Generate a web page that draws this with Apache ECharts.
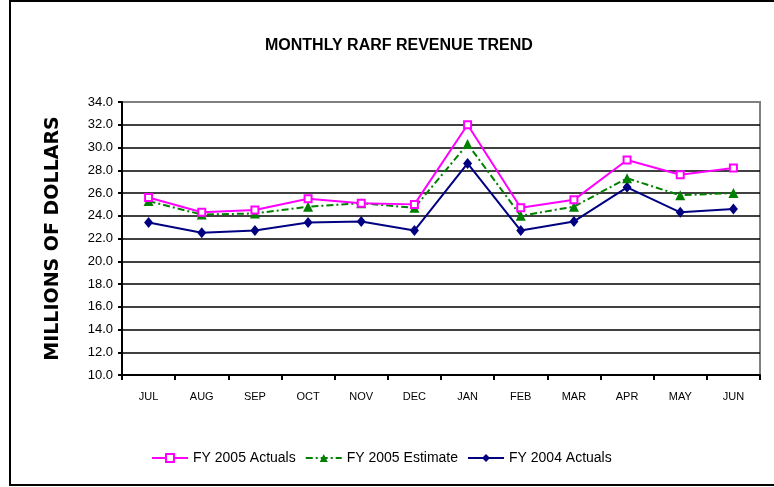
<!DOCTYPE html>
<html>
<head>
<meta charset="utf-8">
<script src="https://cdn.jsdelivr.net/npm/echarts@6/dist/echarts.min.js"></script>
<style>
html, body {margin:0; padding:0; background:#fff;}
#chart {width:774px; height:487px;}
</style>
</head>
<body>
<div id="chart"></div>
<script>
var months = ['JUL','AUG','SEP','OCT','NOV','DEC','JAN','FEB','MAR','APR','MAY','JUN']
var fy2005Actuals = [25.6, 24.3, 24.5, 25.5, 25.1, 25.0, 32.0, 24.7, 25.4, 28.9, 27.6, 28.2]
var fy2005Estimate = [25.3, 24.1, 24.2, 24.8, 25.1, 24.7, 30.3, 24.0, 24.8, 27.3, 25.8, 26.0]
var fy2004Actuals = [23.4, 22.5, 22.7, 23.4, 23.5, 22.7, 28.6, 22.7, 23.5, 26.5, 24.3, 24.6]

var sans = '"Liberation Sans", Arial, sans-serif'

// 13 grid lines 10..34, the top one is the grey plot border
var gridColors = []
for (var i = 0; i < 12; i++) gridColors.push('#000')
gridColors.push('#808080')

var chart = echarts.init(document.getElementById('chart'));
var option = {
    animation: false,
    backgroundColor: '#fff',
    title: {
        text: 'MONTHLY RARF REVENUE TREND',
        left: 260,
        top: 33,
        textStyle: {
            fontFamily: sans,
            fontWeight: 'bold',
            fontSize: 16,
            color: '#000'
        }
    },
    grid: {
        left: 122,
        right: 14,
        top: 102,
        bottom: 112,
        show: true,
        borderColor: '#808080',
        borderWidth: 2
    },
    legend: {
        left: 146,
        top: 446,
        itemWidth: 36,
        itemHeight: 10,
        itemGap: 9,
        textStyle: {
            fontFamily: sans,
            fontSize: 14,
            color: '#000'
        },
        data: ['FY 2005 Actuals', 'FY 2005 Estimate', 'FY 2004 Actuals']
    },
    xAxis: {
        type: 'category',
        data: months,
        boundaryGap: true,
        axisLine: {lineStyle: {color: '#000', width: 2}},
        axisTick: {show: true, length: 5, lineStyle: {color: '#000', width: 2}},
        axisLabel: {
            margin: 16,
            fontFamily: sans,
            fontSize: 11,
            color: '#000'
        },
        splitLine: {show: false}
    },
    yAxis: {
        type: 'value',
        min: 10,
        max: 34,
        interval: 2,
        name: 'MILLIONS OF DOLLARS',
        nameLocation: 'middle',
        nameGap: 59,
        nameTextStyle: {
            fontFamily: '"DejaVu Sans", sans-serif',
            fontWeight: 'bold',
            fontSize: 19,
            color: '#000'
        },
        axisLine: {show: true, lineStyle: {color: '#000', width: 2}},
        axisTick: {show: true, length: 4, lineStyle: {color: '#000', width: 2}},
        axisLabel: {
            margin: 9,
            fontFamily: sans,
            fontSize: 13,
            color: '#000',
            formatter: function (v) { return v.toFixed(1); }
        },
        splitLine: {show: true, lineStyle: {color: gridColors, width: 1.5}}
    },
    series: [{
        name: 'FY 2005 Actuals',
        type: 'line',
        data: fy2005Actuals,
        symbol: 'rect',
        symbolSize: 7,
        lineStyle: {color: '#ff00ff', width: 2},
        itemStyle: {color: '#fff', borderColor: '#ff00ff', borderWidth: 2},
        z: 4
    }, {
        name: 'FY 2005 Estimate',
        type: 'line',
        data: fy2005Estimate,
        symbol: 'triangle',
        symbolSize: 10,
        lineStyle: {color: '#008000', width: 2, type: [7, 3, 2, 3]},
        itemStyle: {color: '#008000'},
        z: 3
    }, {
        name: 'FY 2004 Actuals',
        type: 'line',
        data: fy2004Actuals,
        symbol: 'diamond',
        symbolSize: [9, 11],
        lineStyle: {color: '#000080', width: 2},
        itemStyle: {color: '#000080'},
        z: 2
    }],
    graphic: [{
        type: 'rect',
        shape: {x: 10, y: 1, width: 800, height: 484},
        style: {fill: 'none', stroke: '#000', lineWidth: 2},
        silent: true
    }]
};

chart.setOption(option);
</script>
</body>
</html>
